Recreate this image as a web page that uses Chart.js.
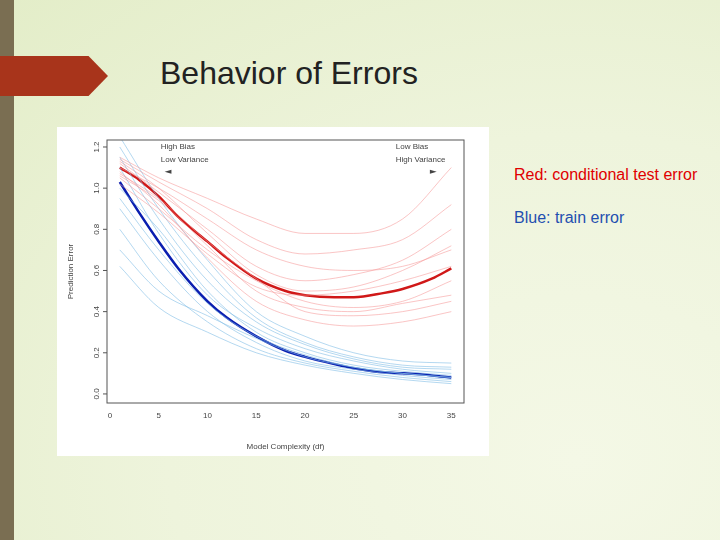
<!DOCTYPE html>
<html><head><meta charset="utf-8">
<script src="https://cdn.jsdelivr.net/npm/chart.js@4"></script>
<style>
body{margin:0;width:720px;height:540px;overflow:hidden;position:relative;font-family:Arial,"Liberation Sans",sans-serif;
background:radial-gradient(ellipse at 80% 85%,#f4f8e6 0%,#eef4dc 50%,#e3edc8 100%);}
#stripe{position:absolute;left:0;top:0;width:14px;height:540px;background:#7a6e52;}
#banner{position:absolute;left:0;top:56px;width:108px;height:40px;background:#a8341b;clip-path:polygon(0 0,82% 0,100% 50%,82% 100%,0 100%);}
#title{position:absolute;left:160px;top:55px;font-size:32px;color:#222;}
#box{position:absolute;left:57px;top:127px;width:432px;height:329px;background:#fff;}
.note{position:absolute;left:514px;font-size:16px;white-space:nowrap;}
</style></head><body>
<div id="stripe"></div><div id="banner"></div>
<div id="title">Behavior of Errors</div>
<div id="box"><canvas id="c" width="432" height="329"></canvas></div>
<div class="note" style="top:166px;color:#e00000">Red: conditional test error</div>
<div class="note" style="top:209px;color:#1f4fb0">Blue: train error</div>
<script>
const mainX=[1,3,5,7,10,12,15,18,20,23,25,28,30,33,35];
const testMain=[1.10,1.04,0.96,0.86,0.74,0.66,0.56,0.50,0.48,0.47,0.47,0.49,0.51,0.56,0.61];
const trainMain=[1.03,0.88,0.74,0.61,0.45,0.37,0.28,0.21,0.18,0.145,0.125,0.105,0.10,0.09,0.08];
const thinX=[1,5,10,15,20,25,30,35];
const testThin=[
[1.15,1.05,0.95,0.85,0.78,0.78,0.85,1.10],
[1.05,0.90,0.70,0.55,0.45,0.42,0.45,0.55],
[1.12,0.98,0.80,0.62,0.55,0.58,0.65,0.80],
[1.08,0.92,0.66,0.45,0.36,0.33,0.35,0.40],
[1.10,1.00,0.85,0.70,0.62,0.60,0.62,0.70],
[1.06,0.94,0.72,0.50,0.42,0.40,0.44,0.48],
[1.14,1.03,0.90,0.75,0.68,0.70,0.75,0.92],
[1.02,0.88,0.68,0.52,0.48,0.50,0.55,0.62],
[1.13,1.00,0.78,0.58,0.50,0.52,0.60,0.72],
[1.07,0.95,0.74,0.56,0.40,0.38,0.40,0.45]];
const trainThin=[
[1.25,0.95,0.65,0.40,0.28,0.20,0.16,0.15],
[0.62,0.42,0.30,0.20,0.14,0.10,0.07,0.05],
[1.00,0.80,0.50,0.30,0.20,0.14,0.11,0.09],
[0.90,0.65,0.40,0.25,0.16,0.12,0.09,0.07],
[1.15,0.85,0.55,0.35,0.24,0.17,0.13,0.12],
[0.80,0.55,0.35,0.22,0.15,0.11,0.08,0.06],
[1.10,0.78,0.48,0.32,0.22,0.16,0.12,0.10],
[0.70,0.50,0.38,0.27,0.18,0.13,0.10,0.08],
[0.95,0.70,0.44,0.28,0.19,0.13,0.10,0.08],
[1.20,0.90,0.60,0.37,0.25,0.18,0.14,0.13]];
const xTicks=[0,5,10,15,20,25,30,35];
const yTicks=[0,0.2,0.4,0.6,0.8,1.0,1.2];
const pts=(xs,ys)=>xs.map((x,i)=>({x,y:ys[i]}));
const ds=[];
testThin.forEach(a=>ds.push({data:pts(thinX,a),borderColor:'rgba(245,150,150,0.55)',borderWidth:1}));
trainThin.forEach(a=>ds.push({data:pts(thinX,a),borderColor:'rgba(130,190,230,0.6)',borderWidth:1}));
ds.push({data:pts(mainX,testMain),borderColor:'#d01818',borderWidth:2.5});
ds.push({data:pts(mainX,trainMain),borderColor:'#0a1eb0',borderWidth:2.5});
const deco={id:'deco',afterDraw(ch){
 const c=ch.ctx,a=ch.chartArea,xs=ch.scales.x,ys=ch.scales.y;
 c.save();c.strokeStyle='#555';c.lineWidth=1;c.strokeRect(a.left,a.top,a.right-a.left,a.bottom-a.top);
 c.fillStyle='#444';c.font='8px Arial';
 yTicks.forEach(v=>{const p=ys.getPixelForValue(v);c.beginPath();c.moveTo(a.left,p);c.lineTo(a.left-4,p);c.stroke();
  c.save();c.translate(a.left-10,p);c.rotate(-Math.PI/2);c.textAlign='center';c.textBaseline='middle';c.fillText(v.toFixed(1),0,0);c.restore();});
 c.save();c.translate(a.left-36,(a.top+a.bottom)/2);c.rotate(-Math.PI/2);c.textAlign='center';c.textBaseline='middle';c.fillText('Prediction Error',0,0);c.restore();
 c.textAlign='left';c.textBaseline='middle';
 c.fillText('High Bias',xs.getPixelForValue(5.2),ys.getPixelForValue(1.2));
 c.fillText('Low Variance',xs.getPixelForValue(5.2),ys.getPixelForValue(1.14));
 c.fillText('Low Bias',xs.getPixelForValue(29.3),ys.getPixelForValue(1.2));
 c.fillText('High Variance',xs.getPixelForValue(29.3),ys.getPixelForValue(1.14));
 const ay=ys.getPixelForValue(1.08);
 c.beginPath();c.moveTo(xs.getPixelForValue(5.6),ay);c.lineTo(xs.getPixelForValue(6.3),ay-2);c.lineTo(xs.getPixelForValue(6.3),ay+2);c.fill();
 c.beginPath();c.moveTo(xs.getPixelForValue(33.5),ay);c.lineTo(xs.getPixelForValue(32.8),ay-2);c.lineTo(xs.getPixelForValue(32.8),ay+2);c.fill();
 c.restore();}};
new Chart(document.getElementById('c'),{type:'line',data:{datasets:ds},
options:{responsive:false,animation:false,layout:{padding:{top:13,right:25,left:0,bottom:0}},
 elements:{point:{radius:0},line:{tension:0.4,cubicInterpolationMode:'monotone'}},
 plugins:{legend:{display:false},tooltip:{enabled:false}},
 scales:{
  x:{type:'linear',min:-0.31,max:36.3,afterBuildTicks:s=>{s.ticks=xTicks.map(v=>({value:v}));},
   grid:{display:false,drawTicks:true,tickLength:4,tickColor:'#555'},border:{display:false},
   ticks:{color:'#444',font:{size:8,family:'Arial'},padding:4,maxRotation:0},
   title:{display:true,text:'Model Complexity (df)',color:'#444',font:{size:8,family:'Arial'},padding:{top:8}},
   afterFit:s=>{s.height=53;}},
  y:{type:'linear',min:-0.044,max:1.234,afterBuildTicks:s=>{s.ticks=yTicks.map(v=>({value:v}));},
   grid:{display:false},border:{display:false},ticks:{display:false},afterFit:s=>{s.width=50;}}
 }},plugins:[deco]});
</script></body></html>
